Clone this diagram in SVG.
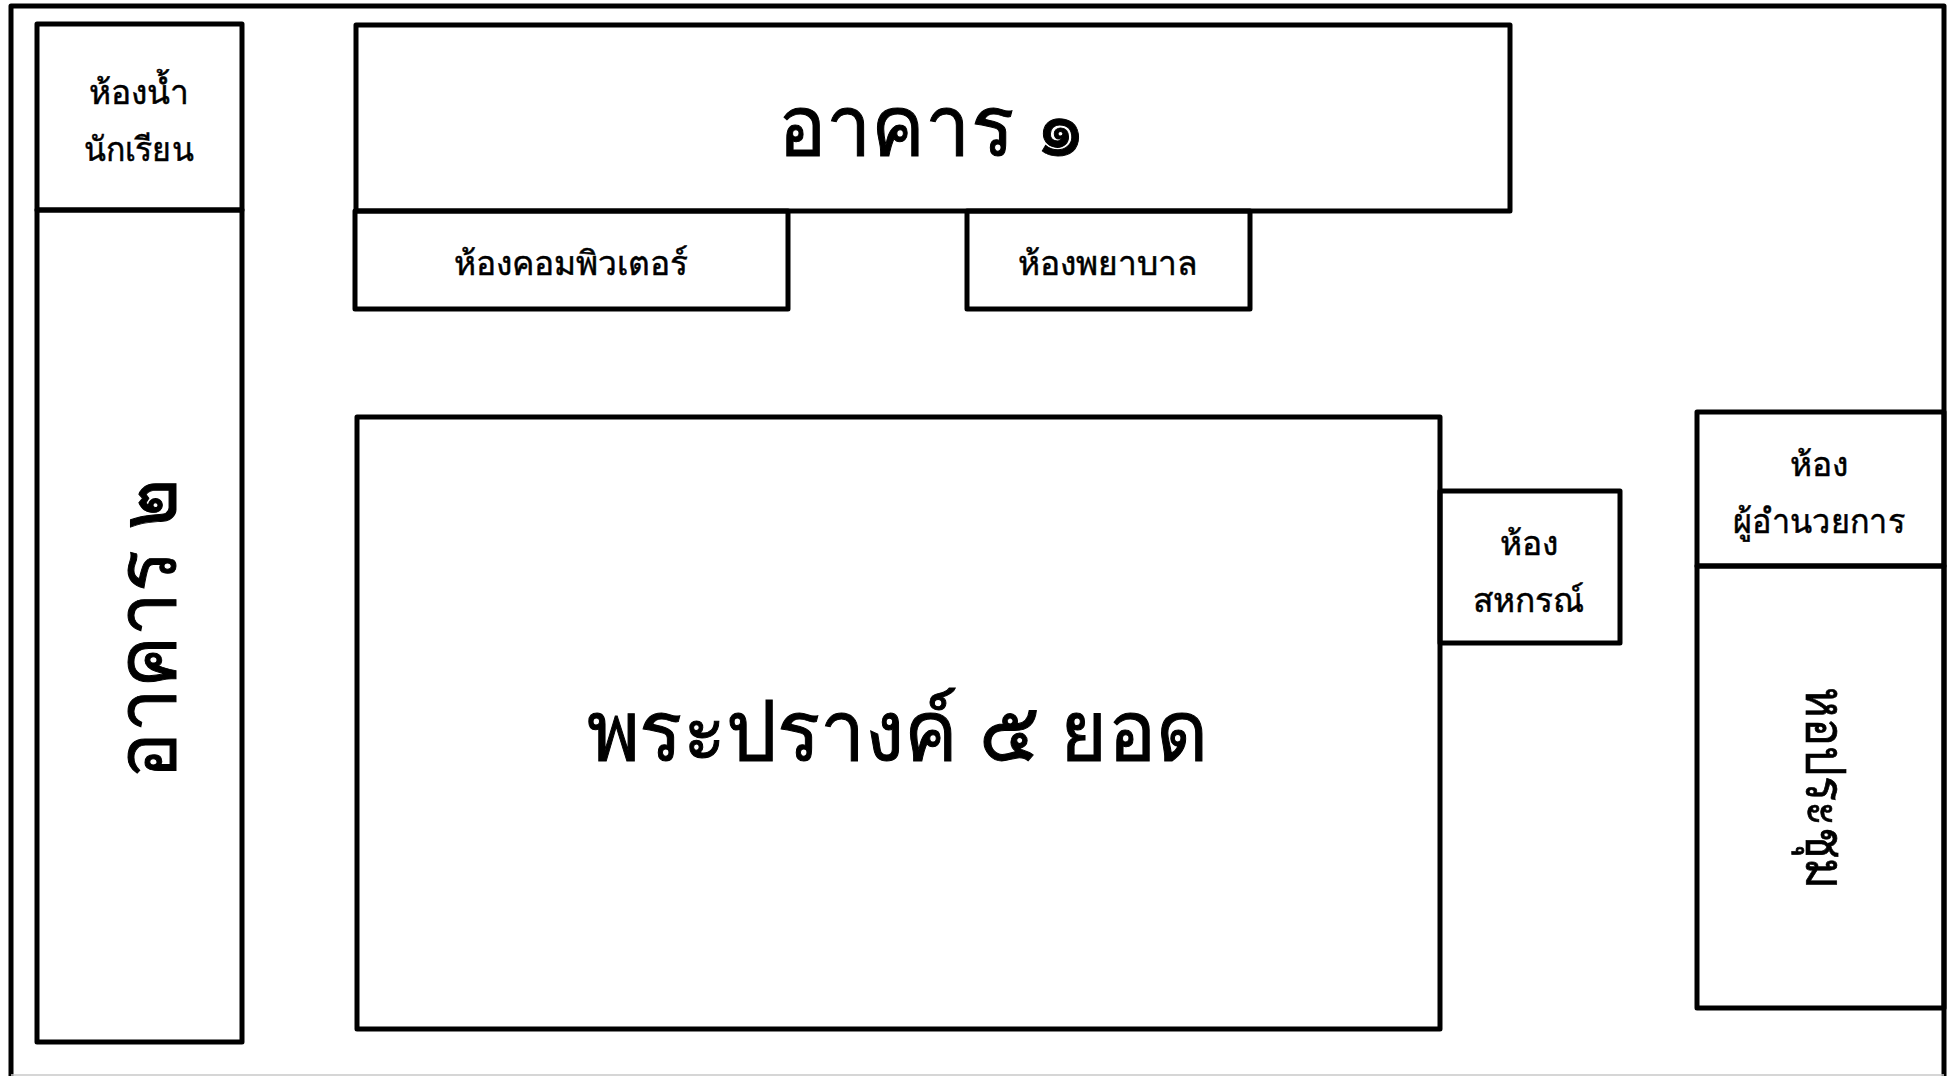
<svg xmlns="http://www.w3.org/2000/svg" width="1951" height="1076" viewBox="0 0 1951 1076">
<style>
.b{fill:none;stroke:#000;stroke-width:5;stroke-linejoin:round}
.t{font-family:"Noto Sans","DejaVu Sans","Liberation Sans",sans-serif;fill:#000;stroke:#000;stroke-width:.5;text-anchor:middle;font-size:33.5px}
.h{font-size:82px;stroke-width:1}
</style>
<rect width="1951" height="1076" fill="#fff"/>
<g id="site"><path class="b" d="M11 1076V6H1944V1076"/><path d="M11 1075H1944" stroke="#c8c8c8" stroke-width="1.5" fill="none"/></g>
<g id="restroom"><rect class="b" x="37" y="24" width="205" height="186"/><text class="t" x="139" y="104">ห้องน้ำ</text><text class="t" x="138.5" y="161" textLength="110" lengthAdjust="spacingAndGlyphs">นักเรียน</text></g>
<g id="building2"><rect class="b" x="37" y="210" width="205" height="832"/><text class="t h" transform="translate(175 628.5) rotate(-90)" textLength="300" lengthAdjust="spacingAndGlyphs">อาคาร ๒</text></g>
<g id="building1"><rect class="b" x="356" y="25" width="1154" height="186"/><text class="t h" x="932" y="155" textLength="308" lengthAdjust="spacingAndGlyphs">อาคาร ๑</text></g>
<g id="computer"><rect class="b" x="355" y="211" width="433" height="98"/><text class="t" x="571" y="275">ห้องคอมพิวเตอร์</text></g>
<g id="nurse"><rect class="b" x="967" y="211" width="283" height="98"/><text class="t" x="1108" y="275">ห้องพยาบาล</text></g>
<g id="prang"><rect class="b" x="357" y="417" width="1083" height="612"/><text class="t h" x="897" y="760" textLength="621" lengthAdjust="spacingAndGlyphs">พระปรางค์ ๕ ยอด</text></g>
<g id="coop"><rect class="b" x="1440" y="491" width="180" height="152"/><text class="t" x="1528.5" y="555">ห้อง</text><text class="t" x="1528.5" y="612">สหกรณ์</text></g>
<g id="director"><rect class="b" x="1697" y="412" width="247" height="154"/><text class="t" x="1819" y="476">ห้อง</text><text class="t" x="1819" y="533" textLength="172" lengthAdjust="spacingAndGlyphs">ผู้อำนวยการ</text></g>
<g id="hall"><rect class="b" x="1697" y="566" width="247" height="442"/><text class="t" style="font-size:55px;stroke-width:.7" transform="translate(1806 788) rotate(90)" textLength="202" lengthAdjust="spacingAndGlyphs">หอประชุม</text></g>
</svg>
